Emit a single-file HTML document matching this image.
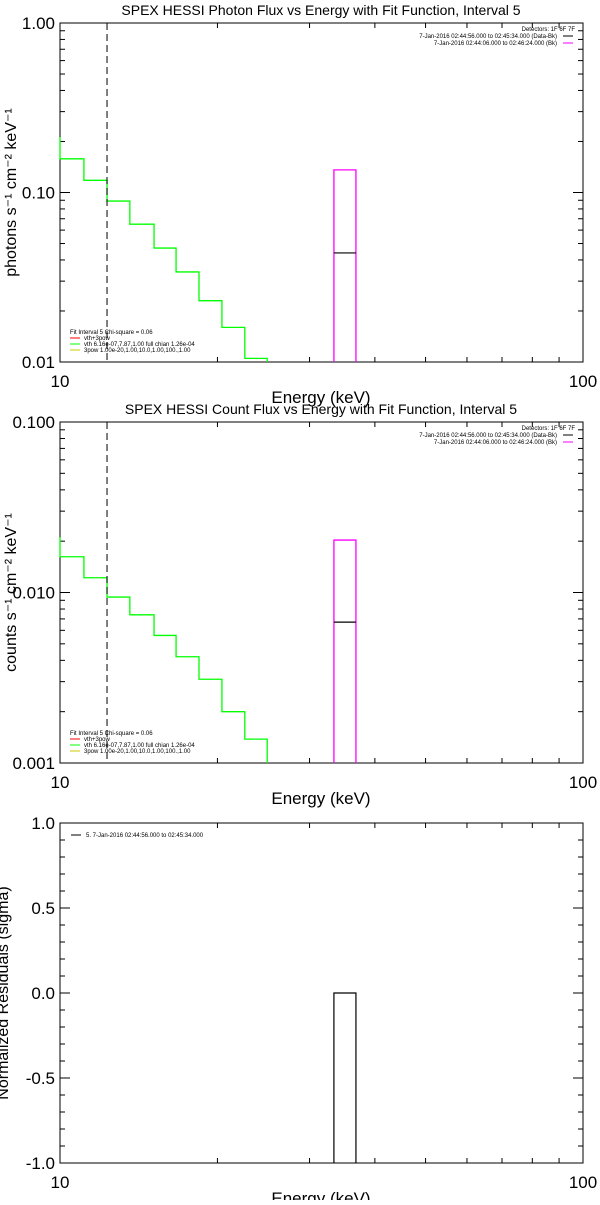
<!DOCTYPE html>
<html><head><meta charset="utf-8"><style>
body{margin:0;background:#fff;width:600px;height:1200px;overflow:hidden}
svg text{font-family:"Liberation Sans",sans-serif;fill:#000}
</style></head><body>
<svg id="c" width="600" height="1200" xmlns="http://www.w3.org/2000/svg"></svg>
<script>
const energyEdges=[10,11.11,12.3,13.6,15.13,16.67,18.44,20.4,22.56,24.9];
const photonFlux=[0.158,0.118,0.089,0.065,0.047,0.034,0.023,0.016,0.0105];
const photonStart=0.212;
const countFlux=[0.0162,0.0122,0.0094,0.0074,0.0056,0.0042,0.0031,0.0020,0.00138];
const countStart=0.0211;
const boxEdges=[33.4,36.8];
const photonBox=[0.136,0.044];
const countBox=[0.0203,0.0067];
const residualValues=[0];
const fitStart=12.3;
const photonTicks=["1.00","0.10","0.01"];
const countTicks=["0.100","0.010","0.001"];
const residTicks=["1.0","0.5","0.0","-0.5","-1.0"];

const svg=document.getElementById('c');
const NS='http://www.w3.org/2000/svg';
function el(tag,attrs,name,parent){const e=document.createElementNS(NS,tag);for(const k in attrs)e.setAttribute(k,attrs[k]);


(parent||svg).appendChild(e);return e;}
function txt(x,y,s,size,name,anchor,extra){const t=el('text',Object.assign({x:x,y:y,'font-size':size,'text-anchor':anchor||'start'},extra||{}),name);t.textContent=s;return t;}
const X0=60,X1=583;
const xs=e=>X0+(X1-X0)*Math.log10(e/10);

function frame(top,bot,yTickFn,majors,minors,labels,title,ytitle,ytx){
  el('rect',{x:X0,y:top,width:X1-X0,height:bot-top,fill:'none',stroke:'#000','stroke-width':1},'plot-frame');
  for(let k=2;k<10;k++){const x=xs(k*10);
    el('line',{x1:x,x2:x,y1:bot,y2:bot-5,stroke:'#000'},'x-minor-tick');
    el('line',{x1:x,x2:x,y1:top,y2:top+5,stroke:'#000'},'x-minor-tick');}
  majors.forEach((v,i)=>{const y=yTickFn(v);
    el('line',{x1:X0,x2:X0+10,y1:y,y2:y,stroke:'#000'},'y-major-tick');
    el('line',{x1:X1,x2:X1-10,y1:y,y2:y,stroke:'#000'},'y-major-tick');
    txt(X0-5,y+6,labels[i],17,'y-tick-label','end');});
  minors.forEach(v=>{const y=yTickFn(v);
    el('line',{x1:X0,x2:X0+5,y1:y,y2:y,stroke:'#000'},'y-minor-tick');
    el('line',{x1:X1,x2:X1-5,y1:y,y2:y,stroke:'#000'},'y-minor-tick');});
  txt(X0,bot+25,'10',17,'x-tick-label','middle');
  txt(X1,bot+25,'100',17,'x-tick-label','middle');
  txt(321,bot+41,'Energy (keV)',17,'x-axis-title','middle');
  if(title)txt(321,top-8,title,14,'chart-title','middle');
  txt(ytx,(top+bot)/2,ytitle,16,'y-axis-title','middle',{transform:`rotate(-90 ${ytx} ${(top+bot)/2})`});
}
function logY(top,bot,hi,lo){return v=>top+(bot-top)*Math.log10(hi/v)/Math.log10(hi/lo);}
function logMinors(hi,lo){const r=[];for(let d=lo;d<hi;d*=10)for(let k=2;k<10;k++)r.push(d*k);return r;}

function spectrum(top,bot,hi,lo,start,vals,box,title,ytitle,labels){
  const ys=logY(top,bot,hi,lo);
  frame(top,bot,ys,[hi,hi/10,lo],logMinors(hi,lo),labels,title,ytitle,16);
  let d=`M${xs(energyEdges[0])},${ys(start)}`;
  vals.forEach((v,i)=>{d+=` L${xs(energyEdges[i])},${ys(v)} L${xs(energyEdges[i+1])},${ys(v)}`;});
  d+=` L${xs(energyEdges[energyEdges.length-1])},${bot}`;
  el('path',{d:d,fill:'none',stroke:'#00ff00','stroke-width':1.3},'model-step-line');
  el('line',{x1:xs(fitStart),x2:xs(fitStart),y1:top,y2:bot,stroke:'#000','stroke-dasharray':'7,4'},'fit-range-marker');
  el('path',{d:`M${xs(boxEdges[0])},${bot} L${xs(boxEdges[0])},${ys(box[0])} L${xs(boxEdges[1])},${ys(box[0])} L${xs(boxEdges[1])},${bot}`,fill:'none',stroke:'#ff00ff','stroke-width':1.3},'background-bin');
  el('line',{x1:xs(boxEdges[0]),x2:xs(boxEdges[1]),y1:ys(box[1]),y2:ys(box[1]),stroke:'#000','stroke-width':1.2},'data-bin');
  txt(575,top+8,'Detectors: 1F 6F 7F',6,'legend-detectors','end');
  txt(557,top+15,'7-Jan-2016 02:44:56.000 to 02:45:34.000 (Data-Bk)',6,'legend-data','end');
  el('line',{x1:563,x2:573,y1:top+13,y2:top+13,stroke:'#000'},'legend-data-swatch');
  txt(557,top+22,'7-Jan-2016 02:44:06.000 to 02:46:24.000 (Bk)',6,'legend-bk','end');
  el('line',{x1:563,x2:573,y1:top+20,y2:top+20,stroke:'#ff00ff'},'legend-bk-swatch');
  txt(70,bot-28,'Fit Interval 5   Chi-square = 0.06',6,'legend-fit');
  el('line',{x1:70,x2:80,y1:bot-24,y2:bot-24,stroke:'#ff0000'},'legend-swatch');
  txt(84,bot-22,'vth+3pow',6,'legend-model');
  el('line',{x1:70,x2:80,y1:bot-18,y2:bot-18,stroke:'#00ff00'},'legend-swatch');
  txt(84,bot-16,'vth 6.16e-07,7.87,1.00  full chian 1.26e-04',6,'legend-vth');
  el('line',{x1:70,x2:80,y1:bot-12,y2:bot-12,stroke:'#cccc00'},'legend-swatch');
  txt(84,bot-10,'3pow 1.00e-20,1.00,10.0,1.00,100.,1.00',6,'legend-3pow');
}
spectrum(23,362,1,0.01,photonStart,photonFlux,photonBox,'SPEX HESSI Photon Flux vs Energy with Fit Function, Interval 5','photons s\u207B\u00B9 cm\u207B\u00B2 keV\u207B\u00B9',photonTicks);
spectrum(422,763,0.1,0.001,countStart,countFlux,countBox,'SPEX HESSI Count Flux vs Energy with Fit Function, Interval 5','counts s\u207B\u00B9 cm\u207B\u00B2 keV\u207B\u00B9',countTicks);

const rt=823,rb=1163;
const ry=v=>rt+(rb-rt)*(1-v)/2;
const minorsR=[];for(let v=-0.9;v<0.95;v+=0.1){const r=Math.round(v*10)/10;if(Math.abs(r*2-Math.round(r*2))>1e-6)minorsR.push(r);}
frame(rt,rb,ry,[1,0.5,0,-0.5,-1],minorsR,residTicks,null,'Normalized Residuals (sigma)',8);
residualValues.forEach(v=>{
  el('path',{d:`M${xs(boxEdges[0])},${rb} L${xs(boxEdges[0])},${ry(v)} L${xs(boxEdges[1])},${ry(v)} L${xs(boxEdges[1])},${rb}`,fill:'none',stroke:'#000','stroke-width':1.2},'residual-bin');
});
el('line',{x1:71,x2:81,y1:835,y2:835,stroke:'#000'},'residual-legend-swatch');
txt(86,837,'5.  7-Jan-2016 02:44:56.000 to 02:45:34.000',6,'residual-legend');
</script>
</body></html>
